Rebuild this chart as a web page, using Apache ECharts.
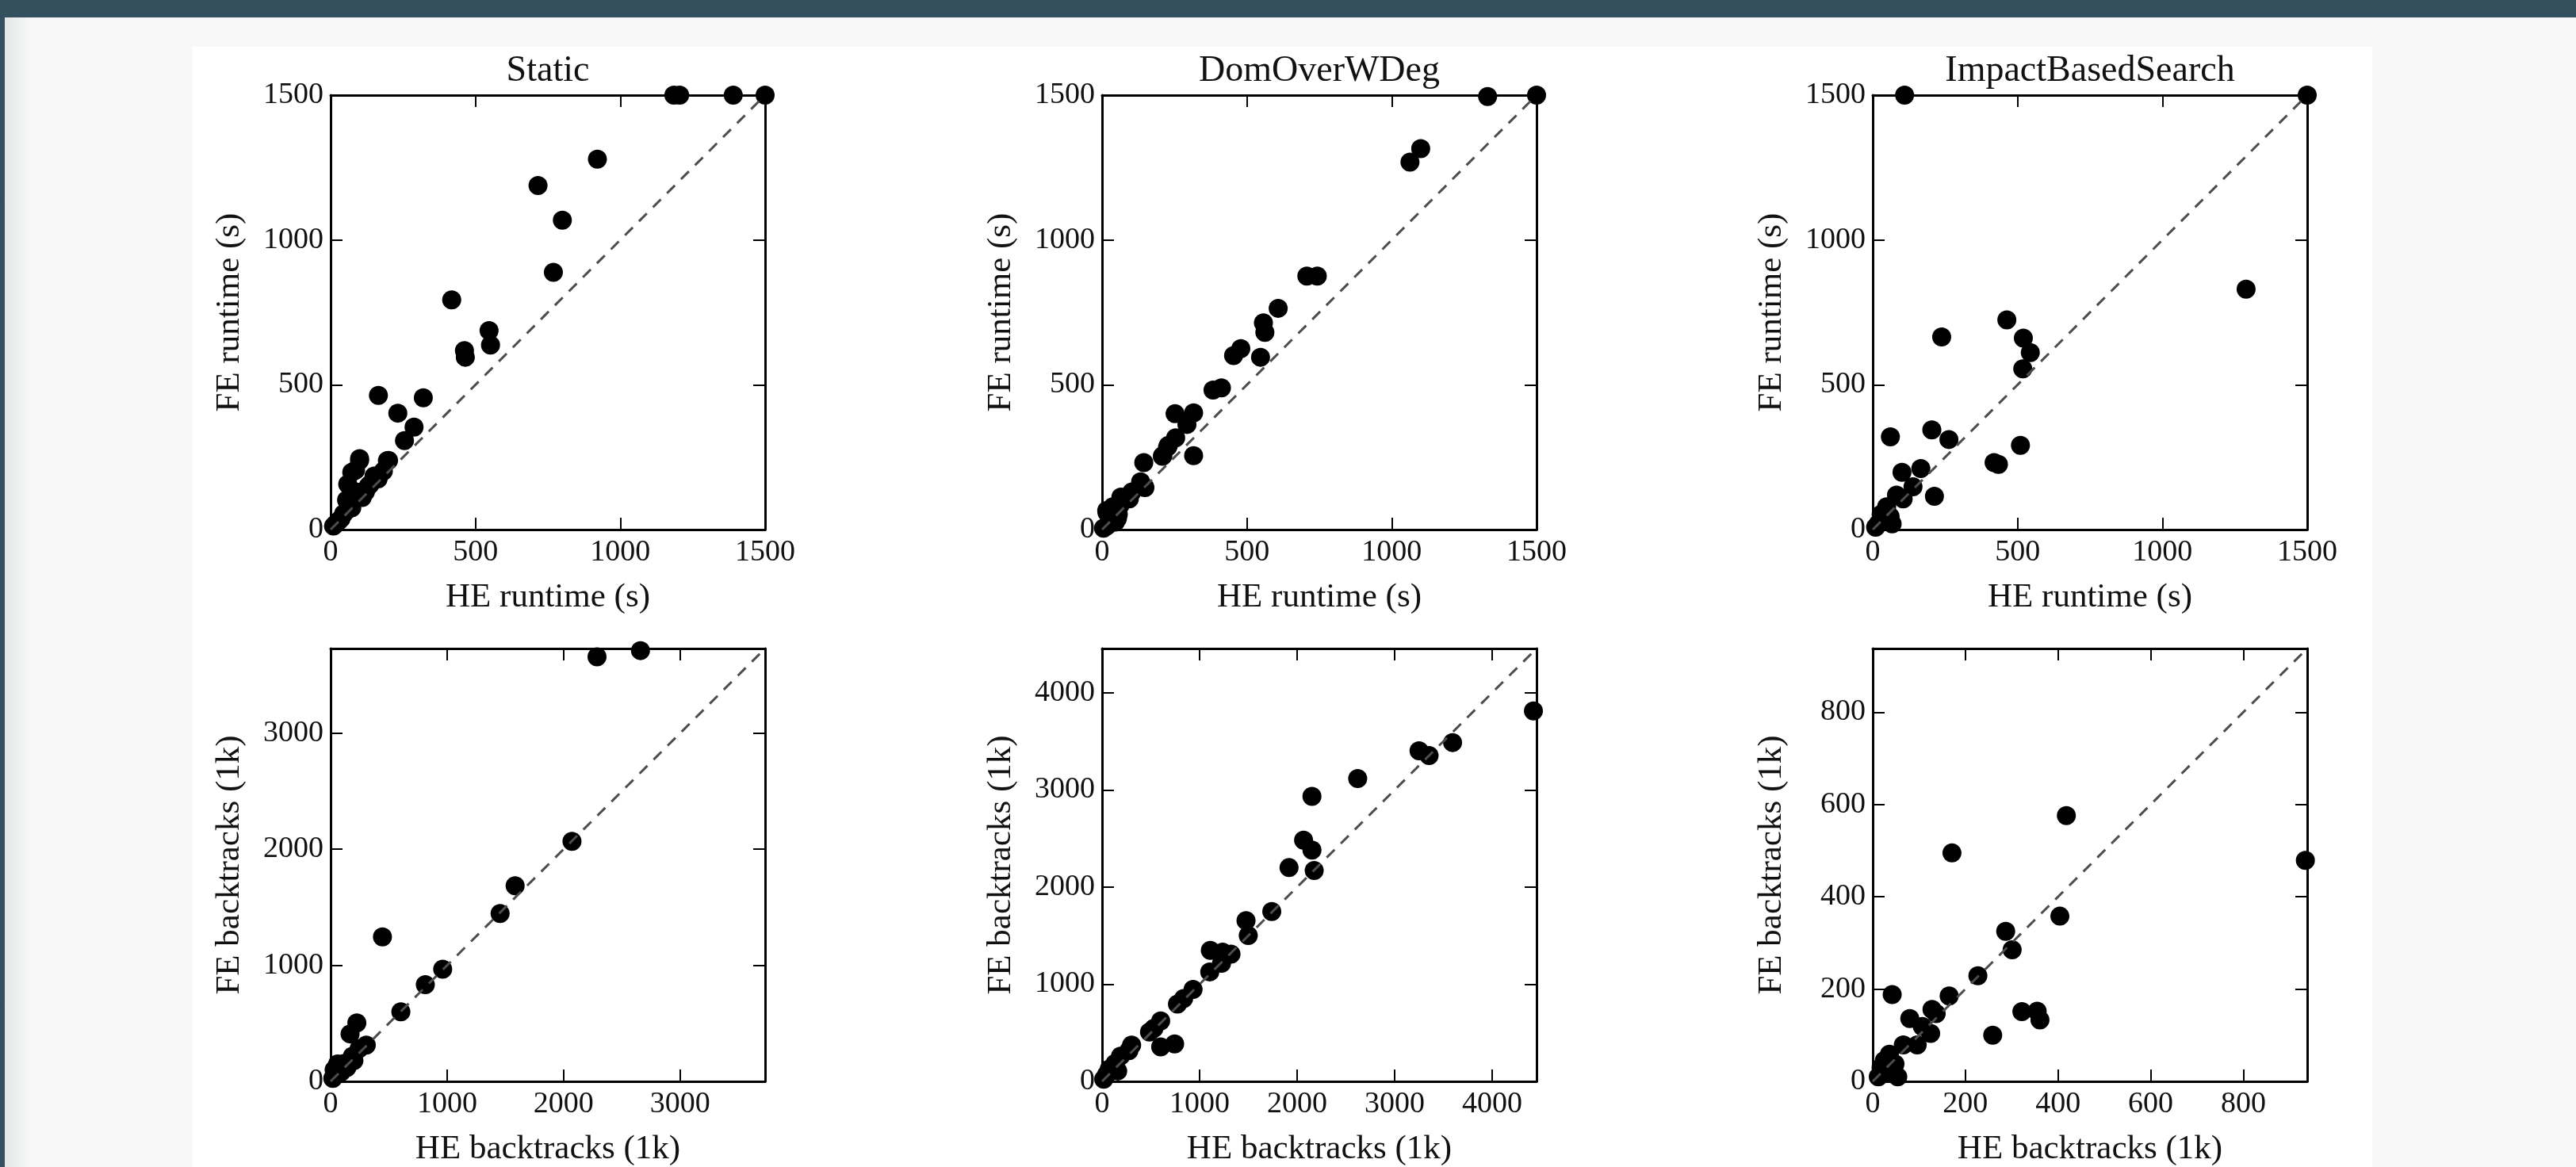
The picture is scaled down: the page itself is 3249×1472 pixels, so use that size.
<!DOCTYPE html>
<html><head><meta charset="utf-8">
<script src="https://cdn.jsdelivr.net/npm/echarts@6/dist/echarts.min.js"></script>
<style>
html,body{margin:0;padding:0;width:3249px;height:1472px;overflow:hidden;background:#f8f8f8;}
#hdr{position:absolute;left:0;top:0;width:3249px;height:22px;background:#34505f;}
#lstrip{position:absolute;left:0;top:0;width:6px;height:1472px;background:#34505f;}
#shade{position:absolute;left:6px;top:22px;width:34px;height:1450px;background:linear-gradient(to right,#e4e6e8,#f8f8f8);}
#panel{position:absolute;left:243px;top:59px;width:2749px;height:1413px;background:#fff;}
#chart{position:absolute;left:0;top:0;width:3249px;height:1472px;}
</style></head>
<body>
<div id="hdr"></div><div id="lstrip"></div><div id="shade"></div><div id="panel"></div>
<div id="chart"></div>
<script>
// ---- data (x = HE, y = FE) ----
const titles = ['Static', 'DomOverWDeg', 'ImpactBasedSearch'];
const xNames = ['HE runtime (s)', 'HE backtracks (1k)'];
const yNames = ['FE runtime (s)', 'FE backtracks (1k)'];

const staticRuntime = [[1185,1500],[1205,1500],[1390,1500],[1500,1500],[921,1279],[716,1188],[800,1068],[769,888],[418,793],
  [462,618],[465,595],[547,687],[552,637],[165,463],[320,455],[232,402],[288,354],[255,307],[196,238],[200,239],[182,202],[164,175],
  [100,245],[86,205],[73,198],[59,157],[100,239],[137,157],[109,111],[91,129],[55,102],[73,75],[36,38],[18,20],[120,130],[150,185],
  [60,70],[45,55],[28,30],[10,12],[130,150]];
const domRuntime = [[1331,1495],[1500,1500],[1100,1315],[1063,1269],[707,875],[743,875],[608,764],[557,714],[562,681],[547,595],
  [479,625],[454,601],[412,489],[383,482],[316,403],[252,400],[293,363],[254,317],[229,291],[210,255],[316,255],[226,285],[208,253],
  [144,231],[133,165],[148,145],[144,148],[103,130],[80,111],[94,106],[62,84],[65,112],[44,57],[26,29],[16,66],[53,38],[37,79],
  [17,59],[56,53],[46,26],[17,13],[5,5]];
const impactRuntime = [[110,1500],[1500,1500],[1289,830],[463,724],[238,665],[520,661],[544,611],[518,555],[61,320],[204,344],
  [263,311],[510,291],[419,231],[434,225],[101,198],[166,211],[139,148],[213,115],[105,106],[82,119],[48,79],[29,53],[57,33],
  [19,20],[67,20],[40,60],[10,8],[60,45]];
const staticBacktracks = [[2287,3658],[2660,3712],[2072,2068],[1584,1685],[1455,1446],[962,967],[813,833],[603,600],[445,1245],
  [225,504],[167,409],[306,313],[244,281],[187,217],[115,153],[67,121],[43,57],[19,26],[90,80],[140,120],[200,180],[60,150],[30,100]];
const domBacktracks = [[4423,3812],[3594,3487],[3250,3403],[3353,3354],[2621,3117],[2152,2934],[2066,2483],[2152,2380],[1917,2200],
  [2175,2170],[1740,1749],[1476,1654],[1499,1501],[1322,1310],[1236,1329],[1110,1348],[1104,1127],[1225,1215],[933,947],[836,852],
  [773,795],[601,623],[532,546],[486,508],[601,355],[744,386],[303,374],[275,317],[189,260],[132,183],[74,126],[46,69],[17,23],[160,107]];
const impactBacktracks = [[934,479],[418,576],[171,495],[404,358],[287,325],[301,285],[227,229],[165,185],[42,188],[322,151],
  [355,152],[361,133],[259,100],[128,156],[137,147],[80,136],[107,119],[125,104],[96,79],[66,79],[36,59],[48,38],[18,30],[54,10],
  [12,10],[36,18],[25,45]];

const runtimeTicks = [0, 500, 1000, 1500];
const staticBtTicks = [0, 1000, 2000, 3000];
const domBtTicks = [0, 1000, 2000, 3000, 4000];
const impactBtTicks = [0, 200, 400, 600, 800];
const axisMaxima = [1500, 1500, 1500, 3730, 4455, 938];

const panelData = [staticRuntime, domRuntime, impactRuntime, staticBacktracks, domBacktracks, impactBacktracks];
const panelTicks = [runtimeTicks, runtimeTicks, runtimeTicks, staticBtTicks, domBtTicks, impactBtTicks];

// ---- layout ----
const colLeft = [417, 1390, 2362];
const rowTop = [120, 818];
const boxW = 548, boxH = 548;
const FONT = '"Liberation Serif", "Times New Roman", serif';
const TXT = '#111';

const grids = [], xAxes = [], yAxes = [], series = [], graphics = [];
for (let i = 0; i < 6; i++) {
  const r = Math.floor(i / 3), c = i % 3;
  grids.push({left: colLeft[c], top: rowTop[r], width: boxW, height: boxH, containLabel: false});
  const ticks = panelTicks[i];
  const step = ticks[1] - ticks[0];
  const mx = axisMaxima[i];
  const fmt = v => (ticks.indexOf(v) >= 0 ? String(v) : '');
  const line = {show: true, onZero: false, lineStyle: {color: '#000', width: 3}};
  const tick = {show: true, inside: true, length: 15, lineStyle: {color: '#000', width: 2}};
  const base = {type: 'value', gridIndex: i, min: 0, max: mx, interval: step, splitLine: {show: false}, axisLine: line, axisTick: tick};
  xAxes.push(Object.assign({}, base, {position: 'bottom',
    axisLabel: {show: true, margin: 10, formatter: fmt, fontFamily: FONT, fontSize: 38, color: TXT, showMaxLabel: true, showMinLabel: true},
    name: xNames[r], nameLocation: 'middle', nameGap: 64,
    nameTextStyle: {fontFamily: FONT, fontSize: 43, color: TXT}}));
  xAxes.push(Object.assign({}, base, {position: 'top', axisLabel: {show: false}}));
  yAxes.push(Object.assign({}, base, {position: 'left',
    axisLabel: {show: true, margin: 9, formatter: fmt, fontFamily: FONT, fontSize: 38, color: TXT, showMaxLabel: true, showMinLabel: true},
    name: yNames[r], nameLocation: 'middle', nameGap: 106,
    nameTextStyle: {fontFamily: FONT, fontSize: 43, color: TXT}}));
  yAxes.push(Object.assign({}, base, {position: 'right', axisLabel: {show: false}}));

  series.push({type: 'scatter', xAxisIndex: 2 * i, yAxisIndex: 2 * i, data: panelData[i], symbol: 'circle', symbolSize: 24,
    itemStyle: {color: '#000', opacity: 1}, clip: true, z: 2, silent: true});
  series.push({type: 'line', xAxisIndex: 2 * i, yAxisIndex: 2 * i, data: [[0, 0], [mx, mx]], symbol: 'none',
    lineStyle: {color: '#4d4d4d', width: 3, type: [14, 11]}, z: 3, silent: true, clip: true});
  if (r === 0) {
    graphics.push({type: 'text', x: colLeft[c] + boxW / 2, y: 90,
      style: {text: titles[c], font: '46px ' + FONT, fill: TXT, align: 'center', verticalAlign: 'middle'}});
  }
}

const chart = echarts.init(document.getElementById('chart'), null, {renderer: 'canvas'});
chart.setOption({
  backgroundColor: 'transparent',
  animation: false,
  grid: grids, xAxis: xAxes, yAxis: yAxes, series: series,
  graphic: graphics
});
</script>
</body></html>
